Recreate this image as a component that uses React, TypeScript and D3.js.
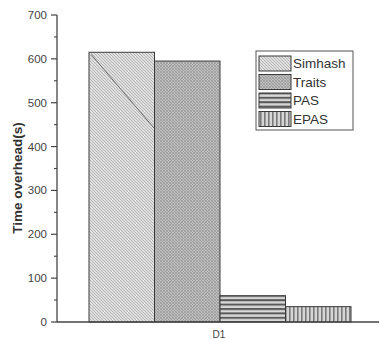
import React from "react";
import * as d3 from "d3";

const categories = ["D1"];
const seriesNames = ["Simhash", "Traits", "PAS", "EPAS"];
const seriesValues = [615, 595, 60, 35];
const yTicks = [0, 100, 200, 300, 400, 500, 600, 700];
const yMinorTicks = [50, 150, 250, 350, 450, 550, 650];
const patternIds = ["pSim", "pTraits", "pPAS", "pEPAS"];

const W = 380;
const H = 339;
const axisX = 57;
const axisY = 322;
const topY = 15;

export default function App() {
  const y = d3.scaleLinear().domain([0, 700]).range([axisY, topY]);
  const xCat = d3.scaleBand().domain(categories).range([89, 351]).padding(0);
  const xSer = d3
    .scaleBand()
    .domain(seriesNames)
    .range([0, xCat.bandwidth()])
    .padding(0);

  const font = "'Liberation Sans', Arial, sans-serif";

  return (
    <svg
      width={W}
      height={H}
      style={{ position: "absolute", left: 0, top: 0, background: "#fff" }}
    >
      <defs>
        <pattern id="pSim" patternUnits="userSpaceOnUse" width={3} height={3}>
          <rect width={3} height={3} fill="#dedede" />
          <path d="M0,0 L3,3 M-1,2 L1,4 M2,-1 L4,1" stroke="#a8a8a8" strokeWidth={0.7} />
        </pattern>
        <pattern id="pTraits" patternUnits="userSpaceOnUse" width={3} height={3}>
          <rect width={3} height={3} fill="#bdbdbd" />
          <path d="M0,0 L3,3 M-1,2 L1,4 M2,-1 L4,1" stroke="#8e8e8e" strokeWidth={0.6} />
          <path d="M3,0 L0,3 M-1,1 L1,-1 M2,4 L4,2" stroke="#9a9a9a" strokeWidth={0.6} />
        </pattern>
        <pattern id="pPAS" patternUnits="userSpaceOnUse" width={4} height={4.4}>
          <rect width={4} height={4.4} fill="#d8d8d8" />
          <rect y={0} width={4} height={2} fill="#5a5a5a" />
        </pattern>
        <pattern id="pEPAS" patternUnits="userSpaceOnUse" width={4} height={4}>
          <rect width={4} height={4} fill="#d6d6d6" />
          <rect x={0} width={1.6} height={4} fill="#7a7a7a" />
        </pattern>
      </defs>

      {/* bars */}
      {categories.map((c) => (
        <g key={c} transform={`translate(${xCat(c)},0)`}>
          {seriesNames.map((s, i) => {
            const bx = xSer(s) as number;
            const bw = xSer.bandwidth();
            const by = y(seriesValues[i]);
            const bh = axisY - by;
            return (
              <g key={s}>
                <rect
                  x={bx}
                  y={by}
                  width={bw}
                  height={bh}
                  fill={`url(#${patternIds[i]})`}
                  stroke="#3a3a3a"
                  strokeWidth={1}
                />
                {i === 0 && (
                  <line
                    x1={bx + 2}
                    y1={by + 2}
                    x2={bx + bw}
                    y2={by + 2 + (bw - 2) * 1.17}
                    stroke="#6a6a6a"
                    strokeWidth={1}
                  />
                )}
              </g>
            );
          })}
        </g>
      ))}

      {/* y axis */}
      <line x1={axisX} y1={topY} x2={axisX} y2={axisY} stroke="#444" strokeWidth={1.3} />
      {yTicks.map((t) => (
        <g key={t}>
          <line x1={axisX - 6} y1={y(t)} x2={axisX} y2={y(t)} stroke="#444" strokeWidth={1.2} />
          <text
            x={47}
            y={y(t)}
            dy="0.35em"
            textAnchor="end"
            fontFamily={font}
            fontSize={11.5}
            fill="#444"
          >
            {t}
          </text>
        </g>
      ))}
      {yMinorTicks.map((t) => (
        <line key={t} x1={axisX - 3} y1={y(t)} x2={axisX} y2={y(t)} stroke="#444" strokeWidth={1.1} />
      ))}

      {/* x axis */}
      <line x1={axisX} y1={axisY} x2={379} y2={axisY} stroke="#444" strokeWidth={1.3} />
      {categories.map((c) => (
        <text
          key={c}
          x={(xCat(c) as number) + xCat.bandwidth() / 2 - 1}
          y={334}
          dy="0.35em"
          textAnchor="middle"
          fontFamily={font}
          fontSize={10}
          fill="#444"
        >
          {c}
        </text>
      ))}

      {/* y title */}
      <text
        transform={`translate(17,178) rotate(-90)`}
        textAnchor="middle"
        dy="0.35em"
        fontFamily={font}
        fontSize={13.5}
        fontWeight="bold"
        fill="#333"
      >
        Time overhead(s)
      </text>

      {/* legend */}
      <rect x={256} y={51} width={97} height={79} fill="#fff" stroke="#555" strokeWidth={1} />
      {seriesNames.map((s, i) => {
        const ly = 56 + i * 18.5;
        return (
          <g key={s}>
            <rect
              x={259}
              y={ly}
              width={32}
              height={15}
              fill={`url(#${patternIds[i]})`}
              stroke="#3a3a3a"
              strokeWidth={1}
            />
            <text
              x={293}
              y={ly + 7.5}
              dy="0.35em"
              fontFamily={font}
              fontSize={13.5}
              fill="#333"
            >
              {s}
            </text>
          </g>
        );
      })}
    </svg>
  );
}
